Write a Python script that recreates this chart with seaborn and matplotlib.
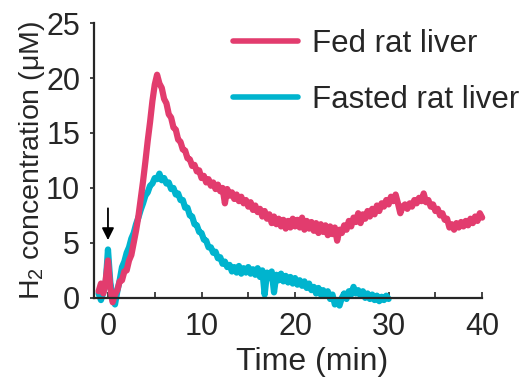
import numpy as np
import pandas as pd
import seaborn as sns
import matplotlib.pyplot as plt

sns.set_style("ticks")
plt.rcParams['font.family'] = ['Liberation Sans', 'DejaVu Sans']
plt.rcParams['mathtext.default'] = 'regular'

# recordings sampled every 0.25 min starting at -1 min
t_step = 0.25
t_start = -1.0

fed = [
    0.6, 1.3, 0.4, 1.6, 3.4, 0.9, -0.4, 0.3, 0.7, 1.5,
    1.6, 2.4, 2.5, 3.4, 3.9, 5.0, 6.1, 7.4, 9.0, 10.6,
    12.4, 14.3, 16.0, 17.9, 19.4, 20.3, 19.5, 19.1, 18.1, 17.7,
    16.7, 16.4, 15.5, 15.3, 14.4, 14.2, 13.5, 13.4, 12.7, 12.6,
    12.0, 12.1, 11.5, 11.6, 10.9, 11.1, 10.5, 10.8, 10.2, 10.5,
    9.9, 10.3, 9.7, 10.0, 8.6, 9.9, 9.3, 9.6, 9.0, 9.4,
    8.8, 9.2, 8.6, 8.9, 8.3, 8.7, 8.0, 8.4, 7.8, 8.1,
    7.4, 7.9, 7.2, 7.6, 6.8, 7.4, 6.7, 7.2, 6.5, 7.1,
    6.3, 7.0, 6.4, 7.2, 6.5, 7.1, 6.4, 7.3, 6.2, 7.0,
    6.3, 6.9, 6.1, 6.8, 5.9, 6.7, 6.0, 6.6, 5.7, 6.5,
    5.8, 6.4, 5.2, 6.2, 5.9, 6.6, 6.2, 7.0, 6.5, 7.3,
    6.9, 7.7, 6.8, 7.6, 7.2, 7.9, 7.4, 8.1, 7.6, 8.4,
    7.9, 8.6, 8.3, 8.9, 8.5, 9.2, 8.8, 9.4, 8.6, 7.7,
    8.3, 8.5, 8.1, 8.6, 8.3, 8.9, 8.6, 9.1, 8.8, 9.5,
    8.7, 8.9, 8.3, 8.5, 7.9, 8.1, 7.5, 7.7, 7.1, 7.2,
    6.4, 6.7, 6.2, 6.8, 6.4, 6.9, 6.5, 7.0, 6.6, 7.2,
    6.8, 7.4, 7.0, 7.7, 7.3,
]

fasted = [
    0.4, -0.2, 0.5, 1.2, 4.4, 1.4, 0.1, -0.6, 0.6, 1.6,
    2.8, 3.3, 4.1, 4.6, 5.4, 5.9, 6.7, 7.3, 8.0, 8.6,
    9.3, 9.6, 10.2, 10.4, 10.9, 10.8, 11.3, 10.7, 10.9, 10.4,
    10.5, 9.9, 10.0, 9.4, 9.5, 8.9, 8.9, 8.2, 8.2, 7.5,
    7.4, 6.7, 6.6, 6.0, 5.9, 5.3, 5.2, 4.6, 4.6, 4.1,
    4.2, 3.6, 3.7, 3.1, 3.3, 2.8, 3.0, 2.4, 2.8, 2.3,
    2.9, 2.2, 2.7, 2.3, 2.8, 2.2, 2.6, 2.1, 2.7, 1.9,
    2.5, 0.3, 2.3, 1.8, 2.4, 0.5, 2.1, 1.6, 2.2, 1.5,
    2.0, 1.4, 1.9, 1.3, 1.8, 1.2, 1.6, 1.1, 1.5, 0.9,
    1.3, 0.7, 1.0, 0.4, 0.9, 0.3, 0.7, 0.2, 0.6, -0.1,
    0.3, -0.6, -0.2, -0.7, 0.0, 0.4, -0.1, 0.6, 0.3, 1.0,
    0.4, 0.7, 0.2, 0.6, 0.0, 0.4, -0.1, 0.3, -0.2, 0.2,
    -0.3, 0.1, -0.2, 0.2, -0.1,
]

labels = ["Fed rat liver", "Fasted rat liver"]
colors = {"Fed rat liver": "#E23C6E", "Fasted rat liver": "#00B4CE"}

df = pd.concat([
    pd.DataFrame({"time": t_start + t_step * np.arange(len(fed)), "h2": fed, "sample": labels[0]}),
    pd.DataFrame({"time": t_start + t_step * np.arange(len(fasted)), "h2": fasted, "sample": labels[1]}),
])

fig, ax = plt.subplots(figsize=(5.19, 3.78), dpi=100)
fig.subplots_adjust(left=0.181, right=0.929, bottom=0.212, top=0.939)

# fasted underneath, fed on top
for lab in labels[::-1]:
    sns.lineplot(data=df[df["sample"] == lab], x="time", y="h2", color=colors[lab],
                 lw=4.5, ax=ax, label=lab, clip_on=False, estimator=None)

ax.set_xlim(-1.5, 40)
ax.set_ylim(0, 25)
ax.set_xticks([0, 10, 20, 30, 40])
ax.set_xticks([5, 15, 25, 35], minor=True)
ax.set_yticks([0, 5, 10, 15, 20, 25])
sns.despine(ax=ax)
for s in ["left", "bottom"]:
    ax.spines[s].set_linewidth(1.6)
ax.tick_params(axis="x", which="both", direction="in", length=4, width=1.2, labelsize=22, pad=10)
ax.tick_params(axis="y", direction="out", length=3, width=1.2, labelsize=22, pad=7)

ax.set_xlabel("Time (min)", fontsize=23)
ax.set_ylabel("H$_2$ concentration (μM)", fontsize=20.5)
ax.xaxis.set_label_coords(0.562, -0.18)
ax.yaxis.set_label_coords(-0.122, 0.5)

ax.annotate("", xy=(0, 5.0), xytext=(0, 8.4),
            arrowprops=dict(arrowstyle="-|>", color="black", lw=1.3, mutation_scale=18))

h, l = ax.get_legend_handles_labels()
ax.get_legend().remove()
order = [l.index(lab) for lab in labels]
leg = fig.legend([h[i] for i in order], [l[i] for i in order], loc="upper left",
                 bbox_to_anchor=(233 / 519, 1 - 29 / 378), frameon=False, fontsize=22.5,
                 handlelength=2.08, handletextpad=0.45, labelspacing=0.83,
                 borderpad=0, borderaxespad=0)
for line in leg.get_lines():
    line.set_linewidth(4)

fig.savefig("out.png", dpi=100)
